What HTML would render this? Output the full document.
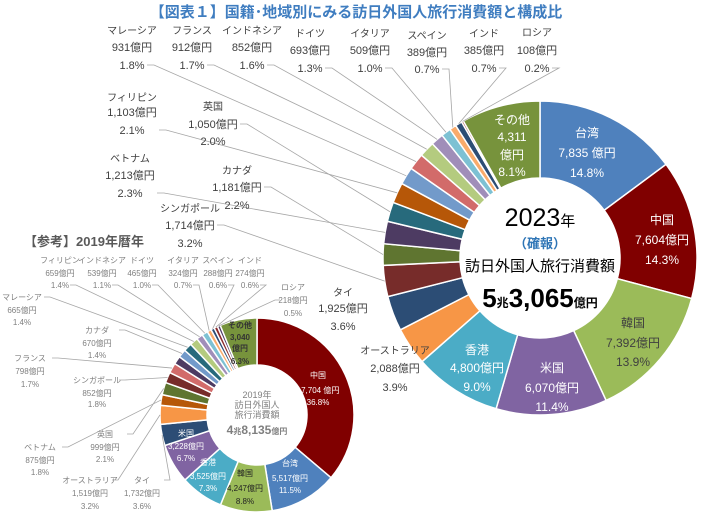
<!DOCTYPE html>
<html><head><meta charset="utf-8"><style>
html,body{margin:0;padding:0;background:#fff;}
svg{display:block;font-family:"Liberation Sans","Noto Sans CJK JP",sans-serif;}
</style></head><body>
<svg id="s" width="711" height="517" viewBox="0 0 711 517" xmlns="http://www.w3.org/2000/svg">
<text x="356" y="17" text-anchor="middle" font-size="15" font-weight="bold" fill="#3F7DC0">【図表１】国籍･地域別にみる訪日外国人旅行消費額と構成比</text>
<g id="big"></g><g id="small"></g><g id="txt"></g>
</svg>
<script>
(function(){
const NS="http://www.w3.org/2000/svg";
function el(p,t,a,txt){const e=document.createElementNS(NS,t);for(const k in a)e.setAttribute(k,a[k]);if(txt!==undefined)e.textContent=txt;p.appendChild(e);return e;}
function donut(g,cx,cy,R,r,data){
 const tot=data.reduce((s,d)=>s+d[0],0);let a=0;const mids=[];
 data.forEach(d=>{const a0=a/tot*2*Math.PI;a+=d[0];const a1=a/tot*2*Math.PI;
  const P=(ang,rr)=>[cx+rr*Math.sin(ang),cy-rr*Math.cos(ang)];
  const la=(a1-a0)>Math.PI?1:0;const p1=P(a0,R),p2=P(a1,R),p3=P(a1,r),p4=P(a0,r);
  el(g,"path",{d:`M${p1}A${R},${R} 0 ${la} 1 ${p2}L${p3}A${r},${r} 0 ${la} 0 ${p4}Z`,fill:d[1],stroke:"#fff","stroke-width":1.5});
  mids.push(P((a0+a1)/2,R));});
 return mids;}
const big=[[14.8,"#4F81BD"],[14.3,"#800000"],[13.9,"#9BBB59"],[11.4,"#8064A2"],[9.0,"#4BACC6"],[3.9,"#F79646"],[3.6,"#2C4D75"],[3.2,"#772C2A"],[2.2,"#5F7530"],[2.3,"#4D3B62"],[2.0,"#276A7C"],[2.1,"#B65708"],[1.8,"#729ACA"],[1.7,"#D26B6A"],[1.6,"#B4CB7F"],[1.3,"#A08EB9"],[1.0,"#7DC1D3"],[0.7,"#F9AB6B"],[0.7,"#2C4D75"],[0.2,"#8B2B2B"],[8.1,"#77933C"]];
const bm=donut(document.getElementById("big"),540,258,157,80,big);
const small=[[36.8,"#800000"],[11.5,"#4F81BD"],[8.8,"#9BBB59"],[7.3,"#4BACC6"],[6.7,"#8064A2"],[3.6,"#2C4D75"],[3.2,"#F79646"],[1.8,"#B65708"],[2.1,"#5F7530"],[1.8,"#772C2A"],[1.7,"#D26B6A"],[1.4,"#4D3B62"],[1.4,"#729ACA"],[1.4,"#276A7C"],[1.4,"#B4CB7F"],[1.1,"#A08EB9"],[1.0,"#7DC1D3"],[0.7,"#F9AB6B"],[0.6,"#2C4D75"],[0.6,"#8B2B2B"],[0.5,"#4D3B62"],[6.3,"#77933C"]];
const sm=donut(document.getElementById("small"),257,415,97,50,small);
const T=document.getElementById("txt");
function lab(x,ys,lines,o){o=o||{};lines.forEach((l,i)=>el(T,"text",{x:x,y:ys[i],"text-anchor":"middle","font-size":(o.nf&&i==0)?o.nf:(o.fs||11),fill:o.c||"#404040","font-weight":o.w||"normal"},l));}
function line(pts,c){el(T,"polyline",{points:pts.map(p=>p.join(",")).join(" "),fill:"none",stroke:c||"#A6A6A6","stroke-width":0.8});}
const N={nf:10};
const topL=[[132,[34,51,69],"マレーシア","931億円","1.8%",12],[192,[34,51,69],"フランス","912億円","1.7%",13],[252,[34,51,69],"インドネシア","852億円","1.6%",14],[310,[37,54,72],"ドイツ","693億円","1.3%",15],[370,[37,54,72],"イタリア","509億円","1.0%",16],[427,[39,56,73],"スペイン","389億円","0.7%",17],[484,[37,54,72],"インド","385億円","0.7%",18],[537,[36,54,72],"ロシア","108億円","0.2%",19]];
topL.forEach(t=>{lab(t[0],t[1],[t[2],t[3],t[4]],N);line([[t[0]+15,t[1][2]-4],[t[0]+22,t[1][2]-4],bm[t[5]]]);});
const left=[[132,[101,116,134],"フィリピン","1,103億円","2.1%",11],[213,[110,128,145],"英国","1,050億円","2.0%",10],[130,[162,179,197],"ベトナム","1,213億円","2.3%",9],[237,[174,191,209],"カナダ","1,181億円","2.2%",8],[190,[212,229,247],"シンガポール","1,714億円","3.2%",7],[343,[296,312,330],"タイ","1,925億円","3.6%",6],[395,[354,372,391],"オーストラリア","2,088億円","3.9%",5]];
left.forEach(t=>{lab(t[0],t[1],[t[2],t[3],t[4]],N);if(t[5]<7)return;const yy=t[5]==11||t[5]==9?t[1][2]-4:t[1][1]-4;line([[t[0]+27,yy],[t[0]+34,yy],bm[t[5]]]);});
const W={c:"#fff",fs:12};
lab(512,[124,141,159,176],["その他","4,311","億円","8.1%"],W);
lab(587,[137,157,177],["台湾","7,835 億円","14.8%"],W);
lab(662,[224,244,264],["中国","7,604億円","14.3%"],W);
lab(633,[327,347,366],["韓国","7,392億円","13.9%"],{c:"#404040",fs:12});
lab(552,[372,392,411],["米国","6,070億円","11.4%"],W);
lab(477,[354,372,391],["香港","4,800億円","9.0%"],W);
const t23=el(T,"text",{x:540,y:226,"text-anchor":"middle",fill:"#000"});
el(t23,"tspan",{"font-size":25},"2023");el(t23,"tspan",{"font-size":15},"年");
lab(540,[248],["（確報）"],{c:"#2E75B6",fs:13,w:"bold"});
lab(540,[271],["訪日外国人旅行消費額"],{c:"#000",fs:15});
const t5=el(T,"text",{x:540,y:307,"text-anchor":"middle",fill:"#000","font-weight":"bold"});
[["5",26],["兆",12],["3,065",26],["億円",12]].forEach(p=>{el(t5,"tspan",{"font-size":p[1]},p[0]);});
lab(84,[246],["【参考】2019年暦年"],{c:"#595959",fs:13,w:"bold"});
const G={c:"#7F7F7F",fs:8};
const st=[[60,"フィリピン","659億円","1.4%",14],[102,"インドネシア","539億円","1.1%",15],[142,"ドイツ","465億円","1.0%",16],[183,"イタリア","324億円","0.7%",17],[218,"スペイン","288億円","0.6%",18],[250,"インド","274億円","0.6%",19]];
st.forEach(t=>{lab(t[0],[263,276,288],[t[1],t[2],t[3]],G);line([[t[0]+10,285],[t[0]+16,285],sm[t[4]]]);});
lab(293,[290,303,316],["ロシア","218億円","0.5%"],G);line([[280,300],[275,300],sm[20]]);
const sl=[[22,[300,313,325],"マレーシア","665億円","1.4%",13],[97,[333,346,358],"カナダ","670億円","1.4%",12],[30,[361,374,387],"フランス","798億円","1.7%",10],[97,[383,396,407],"シンガポール","852億円","1.8%",9],[105,[437,450,462],"英国","999億円","2.1%",8],[40,[450,463,475],"ベトナム","875億円","1.8%",7],[90,[483,496,509],"オーストラリア","1,519億円","3.2%",6],[142,[483,496,509],"タイ","1,732億円","3.6%",5]];
sl.forEach(t=>{lab(t[0],t[1],[t[2],t[3],t[4]],G);line([[t[0]+22,t[1][0]-3],[t[0]+28,t[1][0]-3],sm[t[5]]]);});
lab(240,[328,340,351,364],["その他","3,040","億円","6.3%"],{c:"#333",fs:8,w:"bold"});
const SW={c:"#fff",fs:8};
lab(318,[378,393,405],["中国","17,704 億円","36.8%"],SW);
lab(290,[466,481,493],["台湾","5,517億円","11.5%"],SW);
lab(245,[476,491,504],["韓国","4,247億円","8.8%"],{c:"#222",fs:8});
lab(208,[465,479,491],["香港","3,525億円","7.3%"],SW);
lab(186,[436,449,461],["米国","3,228億円","6.7%"],SW);
lab(257,[398,408,418],["2019年","訪日外国人","旅行消費額"],{c:"#7F7F7F",fs:9});
const t4=el(T,"text",{x:257,y:434,"text-anchor":"middle",fill:"#7F7F7F","font-weight":"bold"});
[["4",12],["兆",8],["8,135",12],["億円",8]].forEach(p=>el(t4,"tspan",{"font-size":p[1]},p[0]));
})();
</script>
</body></html>
